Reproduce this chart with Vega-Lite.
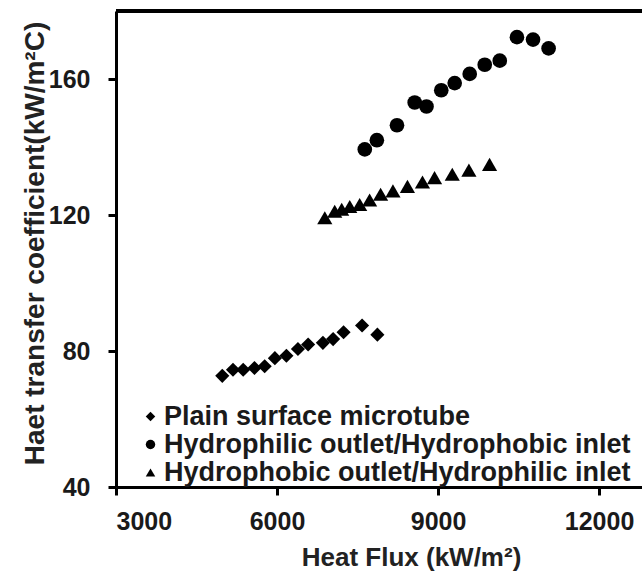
{
  "$schema": "https://vega.github.io/schema/vega-lite/v6.json",
  "width": 526,
  "height": 476,
  "autosize": {"type": "none"},
  "padding": {"left": 116, "top": 11, "right": 0, "bottom": 84},
  "background": "white",
  "config": {
    "view": {"stroke": null},
    "font": "Liberation Sans",
    "axis": {
      "grid": false,
      "domainColor": "black",
      "domainWidth": 3,
      "tickColor": "black",
      "tickWidth": 3,
      "tickSize": 8,
      "labelFont": "Liberation Sans",
      "labelFontSize": 25,
      "labelFontWeight": "bold",
      "labelColor": "#1a1a1a",
      "titleFont": "Liberation Sans",
      "titleFontSize": 26,
      "titleFontWeight": "bold",
      "titleColor": "#222222"
    },
    "legend": {
      "orient": "none",
      "legendX": 21,
      "legendY": 392,
      "title": null,
      "padding": 0,
      "labelFont": "Liberation Sans",
      "labelFontSize": 27,
      "labelFontWeight": "bold",
      "labelColor": "#1a1a1a",
      "labelLimit": 1000,
      "labelOffset": 0,
      "rowPadding": 0,
      "symbolSize": 90,
      "symbolFillColor": "black",
      "symbolStrokeWidth": 0
    }
  },
  "data": {
    "values": [
      {"series": "Plain surface microtube", "flux": 4980, "htc": 72.7},
      {"series": "Plain surface microtube", "flux": 5180, "htc": 74.5},
      {"series": "Plain surface microtube", "flux": 5370, "htc": 74.5},
      {"series": "Plain surface microtube", "flux": 5580, "htc": 75.0},
      {"series": "Plain surface microtube", "flux": 5770, "htc": 75.5},
      {"series": "Plain surface microtube", "flux": 5960, "htc": 77.9},
      {"series": "Plain surface microtube", "flux": 6175, "htc": 78.6},
      {"series": "Plain surface microtube", "flux": 6390, "htc": 80.6},
      {"series": "Plain surface microtube", "flux": 6580, "htc": 81.9},
      {"series": "Plain surface microtube", "flux": 6855, "htc": 82.4},
      {"series": "Plain surface microtube", "flux": 7045, "htc": 83.5},
      {"series": "Plain surface microtube", "flux": 7240, "htc": 85.5},
      {"series": "Plain surface microtube", "flux": 7585, "htc": 87.5},
      {"series": "Plain surface microtube", "flux": 7870, "htc": 84.8},
      {"series": "Hydrophilic outlet/Hydrophobic inlet", "flux": 7635, "htc": 139.3},
      {"series": "Hydrophilic outlet/Hydrophobic inlet", "flux": 7860, "htc": 142.0},
      {"series": "Hydrophilic outlet/Hydrophobic inlet", "flux": 8235, "htc": 146.4},
      {"series": "Hydrophilic outlet/Hydrophobic inlet", "flux": 8565, "htc": 153.1},
      {"series": "Hydrophilic outlet/Hydrophobic inlet", "flux": 8785, "htc": 151.9},
      {"series": "Hydrophilic outlet/Hydrophobic inlet", "flux": 9060, "htc": 156.7},
      {"series": "Hydrophilic outlet/Hydrophobic inlet", "flux": 9310, "htc": 158.8},
      {"series": "Hydrophilic outlet/Hydrophobic inlet", "flux": 9590, "htc": 161.5},
      {"series": "Hydrophilic outlet/Hydrophobic inlet", "flux": 9870, "htc": 164.2},
      {"series": "Hydrophilic outlet/Hydrophobic inlet", "flux": 10150, "htc": 165.4},
      {"series": "Hydrophilic outlet/Hydrophobic inlet", "flux": 10470, "htc": 172.3},
      {"series": "Hydrophilic outlet/Hydrophobic inlet", "flux": 10770, "htc": 171.6},
      {"series": "Hydrophilic outlet/Hydrophobic inlet", "flux": 11060, "htc": 169.0},
      {"series": "Hydrophobic outlet/Hydrophilic inlet", "flux": 6890, "htc": 119.2},
      {"series": "Hydrophobic outlet/Hydrophilic inlet", "flux": 7075, "htc": 121.1},
      {"series": "Hydrophobic outlet/Hydrophilic inlet", "flux": 7205, "htc": 121.7},
      {"series": "Hydrophobic outlet/Hydrophilic inlet", "flux": 7355, "htc": 122.5},
      {"series": "Hydrophobic outlet/Hydrophilic inlet", "flux": 7540, "htc": 123.1},
      {"series": "Hydrophobic outlet/Hydrophilic inlet", "flux": 7725, "htc": 124.4},
      {"series": "Hydrophobic outlet/Hydrophilic inlet", "flux": 7930, "htc": 126.1},
      {"series": "Hydrophobic outlet/Hydrophilic inlet", "flux": 8160, "htc": 127.1},
      {"series": "Hydrophobic outlet/Hydrophilic inlet", "flux": 8430, "htc": 128.4},
      {"series": "Hydrophobic outlet/Hydrophilic inlet", "flux": 8710, "htc": 129.7},
      {"series": "Hydrophobic outlet/Hydrophilic inlet", "flux": 8935, "htc": 131.0},
      {"series": "Hydrophobic outlet/Hydrophilic inlet", "flux": 9265, "htc": 132.0},
      {"series": "Hydrophobic outlet/Hydrophilic inlet", "flux": 9575, "htc": 133.2},
      {"series": "Hydrophobic outlet/Hydrophilic inlet", "flux": 9960, "htc": 134.9}
    ]
  },
  "encoding": {
    "x": {
      "field": "flux",
      "type": "quantitative",
      "scale": {"domain": [3000, 12800], "nice": false, "zero": false},
      "axis": {
        "values": [3000, 6000, 9000, 12000],
        "format": "d",
        "title": "Heat Flux (kW/m²)",
        "labelPadding": 14,
        "titleX": 295,
        "titleY": 78,
        "titleBaseline": "alphabetic",
        "titleAlign": "center"
      }
    },
    "y": {
      "field": "htc",
      "type": "quantitative",
      "scale": {"domain": [40, 180], "nice": false, "zero": false},
      "axis": {
        "values": [40, 80, 120, 160],
        "format": "d",
        "title": "Haet transfer coefficient(kW/m²C)",
        "titleFontSize": 28,
        "labelPadding": 18,
        "titleX": -81,
        "titleY": 232,
        "titleBaseline": "middle",
        "titleAlign": "center",
        "titleAngle": 270
      }
    },
    "shape": {
      "field": "series",
      "type": "nominal",
      "scale": {
        "domain": ["Plain surface microtube", "Hydrophilic outlet/Hydrophobic inlet", "Hydrophobic outlet/Hydrophilic inlet"],
        "range": ["diamond", "circle", "triangle-up"]
      }
    }
  },
  "layer": [
    {
      "transform": [{"filter": "datum.series === 'Plain surface microtube'"}],
      "mark": {"type": "point", "filled": true, "opacity": 1, "color": "black", "strokeWidth": 0, "size": 200}
    },
    {
      "transform": [{"filter": "datum.series === 'Hydrophilic outlet/Hydrophobic inlet'"}],
      "mark": {"type": "point", "filled": true, "opacity": 1, "color": "black", "strokeWidth": 0, "size": 215}
    },
    {
      "transform": [{"filter": "datum.series === 'Hydrophobic outlet/Hydrophilic inlet'"}],
      "mark": {"type": "point", "filled": true, "opacity": 1, "color": "black", "strokeWidth": 0, "size": 230}
    },
    {
      "mark": {"type": "rule", "color": "black", "strokeWidth": 3},
      "encoding": {"x": null, "shape": null, "y": {"datum": 180, "type": "quantitative"}}
    }
  ]
}
